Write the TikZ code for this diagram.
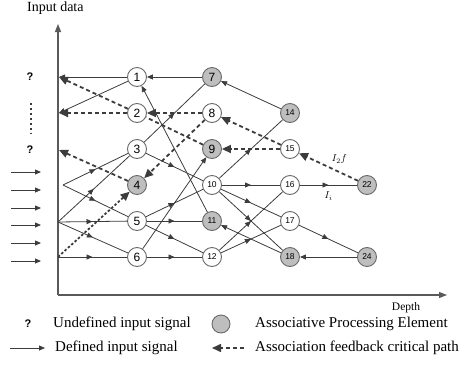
\documentclass[tikz,border=0pt]{standalone}
\usepackage{fontspec}
\setmainfont{Liberation Serif}
\newfontfamily\numfont{Liberation Sans}
\usetikzlibrary{arrows.meta,decorations.markings}
\definecolor{edge}{HTML}{3C3C3C}
\definecolor{axis}{HTML}{5A5A5A}
\definecolor{apefill}{HTML}{BEBEBE}
\definecolor{ring}{HTML}{6A6A6A}
\tikzset{
  pe/.style={circle, draw=ring, fill=white, line width=0.9pt, minimum size=19pt,
             inner sep=0pt, font=\numfont\fontsize{12}{12}\selectfont},
  ape/.style={pe, fill=apefill},
  sm/.style={font=\numfont\fontsize{8.5}{9}\selectfont},
  ln/.style={draw=edge, line width=0.8pt},
  ar/.style={ln, -{Triangle[length=6pt,width=5pt]}},
  midar/.style={ln, postaction={decorate},
                decoration={markings, mark=at position 0.5 with {\arrow{Triangle[length=6pt,width=5pt]}}}},
  fb/.style={draw=edge, line width=1.8pt, dash pattern=on 4pt off 3pt},
  fbar/.style={fb, -{Triangle[length=9pt,width=8pt]}},
  lbl/.style={font=\fontsize{15}{17}\selectfont, inner sep=1pt},
  qm/.style={font=\numfont\bfseries\fontsize{11}{12}\selectfont}
}

\begin{document}
\begin{tikzpicture}[x=1pt,y=-1pt]
  \useasboundingbox (0,0) rectangle (459,365);

  % axes
  \draw[axis, line width=1.2pt, -{Triangle[length=8pt,width=6pt]}] (58,295) -- (58,24);
  \draw[axis, line width=1.2pt, -{Triangle[length=8pt,width=6pt]}] (58,295) -- (447,295);
  \node[lbl, anchor=west, font=\fontsize{14}{16}\selectfont] (yl) at (26,8) {Input data};
  \node[lbl, font=\fontsize{11.5}{12}\selectfont] (xl) at (406,308) {Depth};

  % inputs on the left
  \node[qm] (q1) at (30,77) {?};
  \node[qm] (q2) at (30,150) {?};
  \draw[edge, line width=2.4pt, dash pattern=on 2.4pt off 2.6pt] (31,103) -- (31,134);
  \foreach \y [count=\i] in {172,190,208,225,243,261} {
    \coordinate (s\i) at (11,\y);
    \coordinate (t\i) at (41,\y);
    \draw[ar] (s\i) -- (t\i);
  }

  % points on the input axis
  \coordinate (a1) at (59,77);
  \coordinate (a2) at (59,113);
  \coordinate (a3) at (59,150);
  \coordinate (b4) at (63,185);
  \coordinate (b5) at (58,222);
  \coordinate (b6) at (58,257);

  % processing elements, column by column
  \node[pe]  (n1)  at (137,77)  {1};
  \node[pe]  (n2)  at (137,113) {2};
  \node[pe]  (n3)  at (137,149) {3};
  \node[ape] (n4)  at (137,185) {4};
  \node[pe]  (n5)  at (137,221) {5};
  \node[pe]  (n6)  at (137,257) {6};
  \node[ape] (n7)  at (212,77)  {7};
  \node[pe]  (n8)  at (212,113) {8};
  \node[ape] (n9)  at (212,149) {9};
  \node[pe, sm]  (n10) at (212,185) {10};
  \node[ape, sm] (n11) at (212,221) {11};
  \node[pe, sm]  (n12) at (212,257) {12};
  \node[ape, sm] (n14) at (290,113) {14};
  \node[pe, sm]  (n15) at (290,149) {15};
  \node[pe, sm]  (n16) at (290,185) {16};
  \node[pe, sm]  (n17) at (290,221) {17};
  \node[ape, sm] (n18) at (290,257) {18};
  \node[ape, sm] (n22) at (367,185) {22};
  \node[ape, sm] (n24) at (367,257) {24};

  % from the input axis into column one
  \draw[midar] (b4) -- (n3);
  \draw[midar] (b4) -- (n5);
  \draw[midar] (b5) -- (n3);
  \draw[midar] (b5) -- (n5);
  \draw[midar] (b5) -- (n6);
  \draw[midar] (b6) -- (n6);
  \draw[ar] (n1) -- (a1);
  \draw[ar] (n1) -- (a2);

  % column one to column two
  \draw[ar] (n7) -- (n1);
  \draw[ar] (n11) -- (n1);
  \draw[midar] (n3) -- (n7);
  \draw[midar] (n3) -- (n10);
  \draw[midar] (n5) -- (n10);
  \draw[midar] (n5) -- (n11);
  \draw[midar] (n5) -- (n12);
  \draw[midar] (n6) -- (n12);
  \draw[ar] (n6) -- (n9);

  % column two to column three
  \draw[ar] (n14) -- (n7);
  \draw[midar] (n10) -- (n14);
  \draw[midar] (n10) -- (n16);
  \draw[midar] (n10) -- (n17);
  \draw[midar] (n10) -- (n18);
  \draw[midar] (n12) -- (n16);
  \draw[midar] (n12) -- (n17);
  \draw[ar] (n18) -- (n11);

  % column three to column four
  \draw[midar] (n16) -- (n22) node[pos=0.5, below=3pt, font=\fontsize{10}{10}\selectfont] {$I_i$};
  \draw[midar] (n17) -- (n24);
  \draw[ar] (n24) -- (n18);

  % feedback critical path
  \draw[fbar] (n22) -- (n15) node[pos=0.4, above=2pt, xshift=5pt, font=\fontsize{10}{10}\selectfont] {$I_{2}f$};
  \draw[fbar] (n15) -- (n8);
  \draw[fbar] (n15) -- (n9);
  \draw[fbar] (n8) -- (n2);
  \draw[fbar] (n8) -- (n4);
  \draw[fb] (n9) -- (n2);
  \draw[fbar] (n2) -- (a1);
  \draw[fbar] (n2) -- (a2);
  \draw[fbar] (n4) -- (a3);
  \draw[fbar, dash pattern=on 2.5pt off 2pt] (b6) -- (n4);

  % legend
  \node[qm] (lq) at (28,324) {?};
  \node[lbl, anchor=west] (lqt) at (52,324) {Undefined input signal};
  \node[ape, minimum size=18pt] (lpe) at (221,324) {};
  \node[lbl, anchor=west] (lpet) at (254,324) {Associative Processing Element};
  \coordinate (ls) at (10,348);
  \coordinate (lt) at (45,348);
  \draw[ar] (ls) -- (lt);
  \node[lbl, anchor=west] (lart) at (54,348) {Defined input signal};
  \coordinate (fs) at (244,348);
  \coordinate (ft) at (212,348);
  \draw[fbar, line width=1.5pt] (fs) -- (ft);
  \node[lbl, anchor=west] (lfbt) at (254,348) {Association feedback critical path};
\end{tikzpicture}
\end{document}
